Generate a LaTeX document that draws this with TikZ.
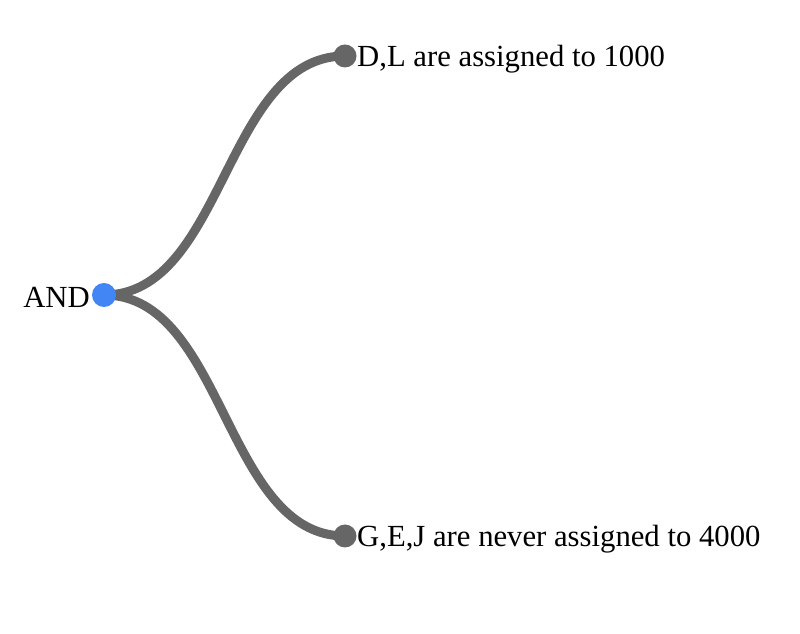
\documentclass[tikz,border=0pt]{standalone}
\usepackage{fontspec}
\setmainfont{Liberation Serif}
\usetikzlibrary{positioning}

\definecolor{linkgray}{HTML}{666666}
\definecolor{rootblue}{HTML}{4285F4}

\tikzset{
    link/.style={draw=linkgray, line width=9pt},
    rootdot/.style={circle, inner sep=0pt, minimum size=24pt, fill=rootblue},
    leafdot/.style={circle, inner sep=0pt, minimum size=23pt, fill=linkgray},
    lbl/.style={inner sep=0pt, font=\fontsize{30.7}{36}\selectfont}
}

\begin{document}
\begin{tikzpicture}[x=1pt,y=1pt]
    \useasboundingbox (0,0) rectangle (800,634);
    % Tree points
    \coordinate (andpt) at (104,339);
    \coordinate (dlpt) at (345,578);
    \coordinate (gejpt) at (345,98);
    % Links
    \draw[link] (andpt) .. controls +(120.5,0) and +(-120.5,0) .. (dlpt);
    \draw[link] (andpt) .. controls +(120.5,0) and +(-120.5,0) .. (gejpt);
    % Root
    \node[rootdot] (and) at (andpt) {};
    \node[lbl, anchor=base east] (andlbl) at (90,326) {AND};
    % Leaves
    \node[leafdot] (dl) at (dlpt) {};
    \node[lbl, anchor=base west] (dllbl) at (357,567) {D,L are assigned to 1000};
    \node[leafdot] (gej) at (gejpt) {};
    \node[lbl, anchor=base west] (gejlbl) at (357,87) {G,E,J are never assigned to 4000};
\end{tikzpicture}
\end{document}
